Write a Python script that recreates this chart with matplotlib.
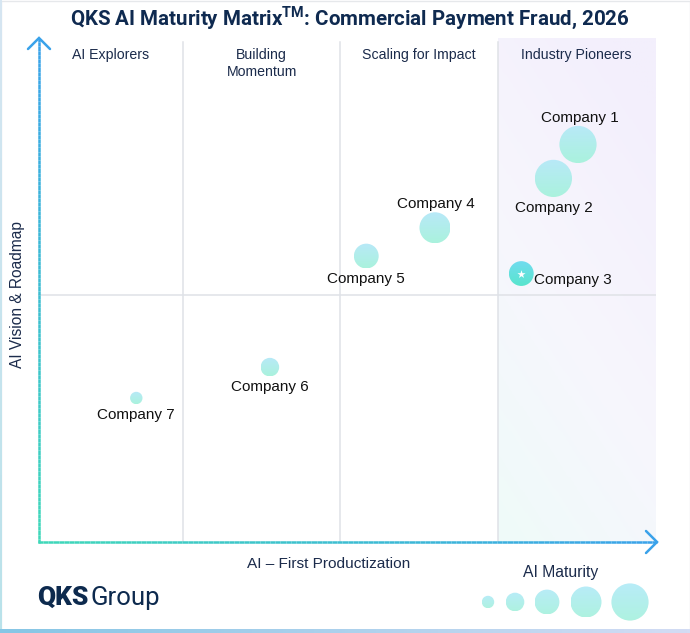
import numpy as np
import matplotlib
matplotlib.use("Agg")
import matplotlib.pyplot as plt
from matplotlib.colors import LinearSegmentedColormap, to_rgb
from matplotlib.patches import Ellipse, Rectangle
from matplotlib.collections import LineCollection

plt.rcParams['font.family'] = ['Liberation Sans', 'DejaVu Sans']
plt.rcParams['mathtext.fontset'] = 'custom'
plt.rcParams['mathtext.bf'] = 'Roboto:bold'
plt.rcParams['mathtext.rm'] = 'Roboto'

# data
companies = ['Company 1', 'Company 2', 'Company 3', 'Company 4',
             'Company 5', 'Company 6', 'Company 7']
productization = [87.7, 83.8, 78.7, 65.0, 54.1, 38.8, 17.6]   # x
vision = [79.3, 72.7, 54.2, 63.1, 57.6, 36.0, 30.0]           # y
maturity = [5, 5, 3, 4, 3, 2, 1]                                # bubble level
quadrants = ['AI Explorers', 'Building\nMomentum', 'Scaling for Impact', 'Industry Pioneers']
quad_edges = [25, 50, 75]
legend_levels = [1, 2, 3, 4, 5]

NAVY = '#1b2b4b'
W, H = 690, 633
fig = plt.figure(figsize=(W / 100, H / 100), dpi=100)

# main plotting area (pixel box 38..655.5 x 38..542)
axl, axr, axt, axb = 38, 655.5, 38, 542
ax = fig.add_axes([axl / W, (H - axb) / H, (axr - axl) / W, (axb - axt) / H])
ax.set_facecolor('none')
XL, YL = (2, 100), (2, 100)
ppx = (axr - axl) / (XL[1] - XL[0])
ppy = (axb - axt) / (YL[1] - YL[0])


def radius_px(level):
    return 3.1 + 3.1 * level


def grad_img(top, bottom, n=64):
    t = np.linspace(0, 1, n)[:, None]
    a, b = np.array(to_rgb(top)), np.array(to_rgb(bottom))
    return (a[None, None, :] * (1 - t[..., None]) + b[None, None, :] * t[..., None])


def disc(axis, cx, cy, w, h, top, bottom, z, flip=False):
    shape = Ellipse((cx, cy), w, h, transform=axis.transData, facecolor='none', edgecolor='none')
    axis.add_patch(shape)
    if flip:
        ext = (cx - w / 2, cx + w / 2, cy + h / 2, cy - h / 2)
    else:
        ext = (cx - w / 2, cx + w / 2, cy - h / 2, cy + h / 2)
    im = axis.imshow(grad_img(top, bottom), extent=ext, origin='upper',
                     aspect='auto', zorder=z, interpolation='bilinear')
    im.set_clip_path(shape)


# shaded "Industry Pioneers" quadrant
gy, gx = np.mgrid[0:1:100j, 0:1:100j]
tt = np.clip(0.75 * gy + 0.35 * (1 - gx) - 0.1, 0, 1)
shade_cmap = LinearSegmentedColormap.from_list('shade', ['#f3effc', '#f7f6fd', '#effbf9'])
ax.imshow(tt, cmap=shade_cmap, extent=(quad_edges[-1], XL[1], YL[0], YL[1]),
          origin='upper', aspect='auto', zorder=0, vmin=0, vmax=1)

for e in quad_edges:
    ax.axvline(e, ymin=0, ymax=(axb - 42) / (axb - axt), color='#dfe2e7', lw=1.1, zorder=1)
ax.axhline(50, color='#dfe2e7', lw=1.1, zorder=1)

# quadrant headings
cols = [XL[0]] + quad_edges + [XL[1]]
for i, q in enumerate(quadrants):
    ax.text((cols[i] + cols[i + 1]) / 2, 100 - 10 / ppy, q, ha='center', va='top',
            fontsize=10.2, color=NAVY, linespacing=1.25, zorder=3)

# bubbles
label_side = {'Company 1': 'above', 'Company 2': 'below', 'Company 3': 'right',
              'Company 4': 'above', 'Company 5': 'below', 'Company 6': 'below',
              'Company 7': 'below'}
for name, x, y, lv in zip(companies, productization, vision, maturity):
    r = radius_px(lv)
    if name == 'Company 3':
        disc(ax, x, y, 2 * r / ppx, 2 * r / ppy, '#71dcef', '#58e5cd', 4)
        ax.scatter([x], [y], marker='*', s=38, color='white', zorder=5, linewidths=0)
    else:
        disc(ax, x, y, 2 * r / ppx, 2 * r / ppy, '#b8e9f8', '#aaf2dd', 4)
    side = label_side[name]
    if side == 'above':
        ax.annotate(name, (x, y), xytext=(1, (r + 8) * 0.72), textcoords='offset points',
                    ha='center', va='center', fontsize=11, color='#111111', zorder=6)
    elif side == 'below':
        ax.annotate(name, (x, y), xytext=(0, -(r + 11) * 0.72), textcoords='offset points',
                    ha='center', va='center', fontsize=11, color='#111111', zorder=6)
    else:
        ax.annotate(name, (x, y), xytext=(r * 0.72, -4.5), textcoords='offset points',
                    ha='left', va='center', fontsize=11, color='#111111', zorder=6)

ax.set_xlim(*XL)
ax.set_ylim(*YL)
ax.axis('off')

# decoration layer in pixel coordinates
deco = fig.add_axes([0, 0, 1, 1], zorder=3)
deco.set_xlim(0, W)
deco.set_ylim(H, 0)
deco.set_facecolor('none')
deco.axis('off')


def grad_line(p0, p1, c0, c1, lw=1.8, n=120):
    xs = np.linspace(p0[0], p1[0], n + 1)
    ys = np.linspace(p0[1], p1[1], n + 1)
    segs = np.stack([np.column_stack([xs[:-1], ys[:-1]]), np.column_stack([xs[1:], ys[1:]])], axis=1)
    a, b = np.array(to_rgb(c0)), np.array(to_rgb(c1))
    t = np.linspace(0, 1, n)[:, None]
    deco.add_collection(LineCollection(segs, colors=a * (1 - t) + b * t, linewidths=lw,
                                       capstyle='butt'))


TEAL, BLUE = '#3fd8b9', '#3aa2ea'
grad_line((39, 543), (39, 38), TEAL, BLUE)
grad_line((38, 542), (657, 542), TEAL, BLUE)
deco.plot([28, 39, 50], [49, 38, 49], color=BLUE, lw=1.8, solid_capstyle='round',
          solid_joinstyle='miter')
deco.plot([646, 657, 646], [531, 542, 553], color=BLUE, lw=1.8, solid_capstyle='round',
          solid_joinstyle='miter')

# axis titles
deco.text(329, 564, 'AI – First Productization', ha='center', va='center',
          fontsize=11.1, color=NAVY)
deco.text(18, 295, 'AI Vision & Roadmap', ha='center', va='center', rotation=90,
          fontsize=11.2, color=NAVY)
deco.text(561, 572, 'AI Maturity', ha='center', va='center', fontsize=11.3, color=NAVY)

# size legend
leg_x = [488, 515, 547, 586, 630]
for lx, lv in zip(leg_x, legend_levels):
    r = radius_px(lv)
    disc(deco, lx, 602, 2 * r, 2 * r, '#b8ecf8', '#aef2e0', 4, flip=True)

# title
fig.text(350 / W, 1 - 18.5 / H,
         r'QKS AI Maturity Matrix$^{\mathbf{TM}}$: Commercial Payment Fraud, 2026',
         ha='center', va='center', fontsize=14.8, fontweight='bold', color='#0f2a50',
         family='Roboto')

# logo
deco.text(37, 598, 'QKS', ha='left', va='center', fontsize=19, fontweight='heavy',
          color='#0d2a4e', family='Roboto')
deco.text(91, 598, 'Group', ha='left', va='center', fontsize=18.5, color='#0d2a4e',
          family='Roboto')

# frame strips
deco.add_patch(Rectangle((0.5, 0.5), W - 1, H - 1, fill=False, edgecolor='#e6e8eb', lw=1))
deco.imshow(grad_img('#d6e6f2', '#b9e2ea'), extent=(0, 1.8, H, 0), aspect='auto', zorder=1)
bot = np.linspace(0, 1, 200)[None, :, None]
ca, cb = np.array(to_rgb('#86c6e5')), np.array(to_rgb('#d3dcf4'))
deco.imshow(ca * (1 - bot) + cb * bot, extent=(0, W, H, H - 4), aspect='auto', zorder=1)
deco.set_xlim(0, W)
deco.set_ylim(H, 0)

fig.savefig('out.png', dpi=100)
